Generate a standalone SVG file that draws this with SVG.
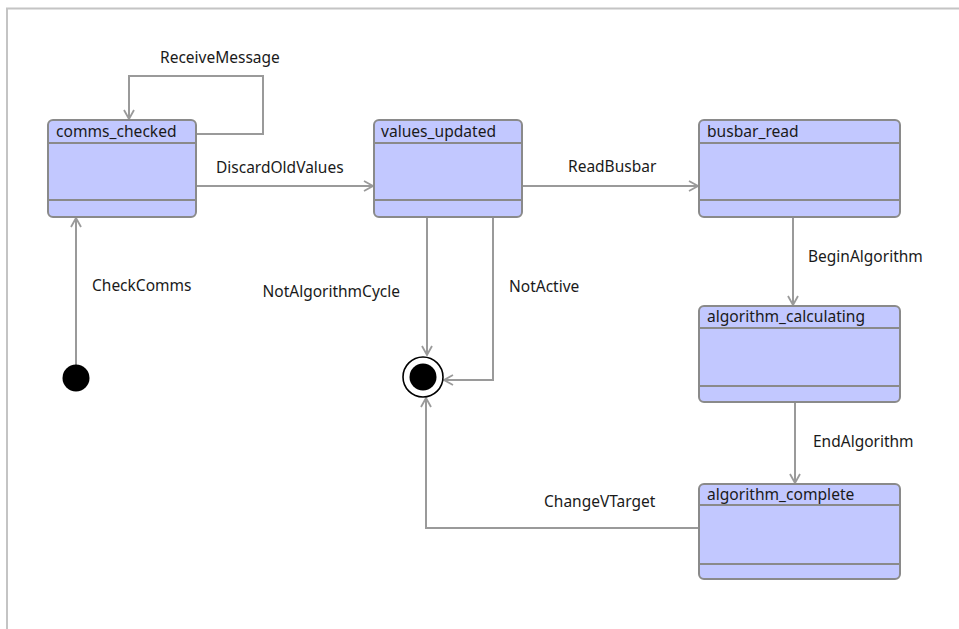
<svg xmlns="http://www.w3.org/2000/svg" width="959" height="629" viewBox="0 0 959 629">
  <style>
    .frame { fill: none; stroke: #c4c4c4; stroke-width: 2; }
    .state rect.body { fill: #c2c8ff; stroke: #8a8a8a; stroke-width: 2; }
    .state line { stroke: #8a8a8a; stroke-width: 2; }
    .title { font-family: "Segoe UI", "Noto Sans", "Open Sans", sans-serif; font-size: 15.6px; fill: #1a1a1a; }
    .label { font-family: "Segoe UI", "Noto Sans", "Open Sans", sans-serif; font-size: 15.5px; fill: #1a1a1a; }
    .edge { fill: none; stroke: #9a9a9a; stroke-width: 2; marker-end: url(#open); }
  </style>
  <defs>
    <marker id="open" viewBox="0 0 12 12" refX="11" refY="6" markerWidth="12" markerHeight="12" markerUnits="userSpaceOnUse" orient="auto">
      <path d="M2,1 L11,6 L2,11" fill="none" stroke="#9a9a9a" stroke-width="1.8"/>
    </marker>
  </defs>
  <rect width="959" height="629" fill="#ffffff"/>
  <path class="frame" d="M7,629 V8.5 H959"/>

  <g id="connectors">
    <path id="e-receive" class="edge" d="M196,134 H263 V76 H129 V119"/>
    <path id="e-discard" class="edge" d="M196,186 H373"/>
    <path id="e-readbusbar" class="edge" d="M522,186 H698"/>
    <path id="e-checkcomms" class="edge" d="M76,365 V218"/>
    <path id="e-notalgo" class="edge" d="M427,217 V355"/>
    <path id="e-notactive" class="edge" d="M493,217 V380 H444"/>
    <path id="e-begin" class="edge" d="M793,217 V305"/>
    <path id="e-end" class="edge" d="M795,402 V483"/>
    <path id="e-changev" class="edge" d="M699,528 H426 V398"/>
    <text class="label" x="160" y="63">ReceiveMessage</text>
    <text class="label" x="216" y="173">DiscardOldValues</text>
    <text class="label" x="568" y="172">ReadBusbar</text>
    <text class="label" x="92" y="291">CheckComms</text>
    <text class="label" x="400" y="297" text-anchor="end">NotAlgorithmCycle</text>
    <text class="label" x="509" y="292">NotActive</text>
    <text class="label" x="808" y="262">BeginAlgorithm</text>
    <text class="label" x="813" y="447">EndAlgorithm</text>
    <text class="label" x="544" y="507">ChangeVTarget</text>
  </g>

  <g id="initial">
    <circle cx="76" cy="378" r="13.5" fill="#000"/>
  </g>

  <g id="final">
    <circle cx="423" cy="377" r="20" fill="#fff" stroke="#000" stroke-width="1.6"/>
    <circle cx="423" cy="377" r="13.5" fill="#000"/>
  </g>

  <g id="comms_checked" class="state">
    <rect class="body" x="48" y="120" width="148" height="97" rx="5"/>
    <line x1="48" y1="143" x2="196" y2="143"/>
    <line x1="48" y1="200" x2="196" y2="200"/>
    <text class="title" x="56" y="137">comms_checked</text>
  </g>

  <g id="values_updated" class="state">
    <rect class="body" x="374" y="120" width="148" height="97" rx="5"/>
    <line x1="374" y1="143" x2="522" y2="143"/>
    <line x1="374" y1="200" x2="522" y2="200"/>
    <text class="title" x="381" y="137">values_updated</text>
  </g>

  <g id="busbar_read" class="state">
    <rect class="body" x="699" y="120" width="201" height="97" rx="5"/>
    <line x1="699" y1="143" x2="900" y2="143"/>
    <line x1="699" y1="200" x2="900" y2="200"/>
    <text class="title" x="707" y="137">busbar_read</text>
  </g>

  <g id="algorithm_calculating" class="state">
    <rect class="body" x="699" y="306" width="201" height="96" rx="5"/>
    <line x1="699" y1="328" x2="900" y2="328"/>
    <line x1="699" y1="386" x2="900" y2="386"/>
    <text class="title" x="707" y="322">algorithm_calculating</text>
  </g>

  <g id="algorithm_complete" class="state">
    <rect class="body" x="699" y="484" width="201" height="95" rx="5"/>
    <line x1="699" y1="505" x2="900" y2="505"/>
    <line x1="699" y1="564" x2="900" y2="564"/>
    <text class="title" x="707" y="500">algorithm_complete</text>
  </g>
</svg>
